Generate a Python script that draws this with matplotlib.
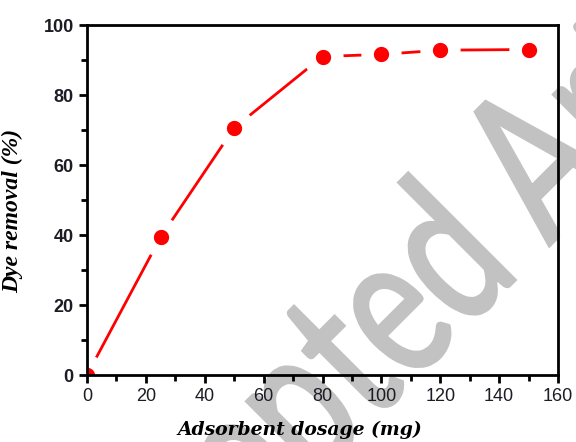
import numpy as np
import matplotlib
matplotlib.use("Agg")
import matplotlib.pyplot as plt
from matplotlib.ticker import MultipleLocator
from matplotlib.textpath import TextPath
from matplotlib.patches import PathPatch
from matplotlib.font_manager import FontProperties
from matplotlib.transforms import Affine2D

dosage = [0, 25, 50, 80, 100, 120, 150]
removal = [0, 39.4, 70.6, 91.0, 91.6, 92.8, 93.0]

fig = plt.figure(figsize=(5.76, 4.42), dpi=100)
ax = fig.add_axes([87 / 576, 1 - 375 / 442, 471 / 576, 350 / 442])
ax.set_facecolor("none")
ax.set_zorder(1)

# thick white marker edge leaves the gap between line and symbol
ax.plot(dosage, removal, color="red", lw=2, marker="o", ms=20,
        markerfacecolor="red", markeredgecolor="white", markeredgewidth=9,
        zorder=2)

ax.set_xlim(0, 160)
ax.set_ylim(0, 100)
ax.xaxis.set_major_locator(MultipleLocator(20))
ax.xaxis.set_minor_locator(MultipleLocator(10))
ax.yaxis.set_major_locator(MultipleLocator(20))
ax.yaxis.set_minor_locator(MultipleLocator(10))
ax.tick_params(which="major", direction="out", length=6, width=2, labelsize=13)
ax.tick_params(which="minor", direction="out", length=4, width=2)
for lab in ax.get_xticklabels() + ax.get_yticklabels():
    lab.set_family("Liberation Sans")
    lab.set_color("#1c1c24")
for lab in ax.get_yticklabels():
    lab.set_weight("bold")
for sp in ax.spines.values():
    sp.set_linewidth(2)

ax.set_xlabel("Adsorbent dosage (mg)", family="DejaVu Serif",
              style="italic", weight="bold", fontsize=13.5)
ax.set_ylabel("Dye removal (%)", family="Liberation Serif",
              style="italic", weight="bold", fontsize=17)
ax.xaxis.set_label_coords((300 - 87) / 471, -46 / 350)
ax.yaxis.set_label_coords((23 - 87) / 471, (375 - 211) / 350)

# watermark behind the axes, a bit condensed like the original
fp = FontProperties(family="Lato")
size = 205
wm_path = TextPath((0, 0), "Accepted Article", size=size, prop=fp)
d_end = TextPath((0, 0), "Accepted", size=size, prop=fp).get_extents().x1
wm_tr = (Affine2D().translate(-d_end, 0).scale(0.72, 1)
         .rotate_deg(45).translate(515, 442 - 280))
fig.add_artist(PathPatch(wm_path, transform=wm_tr, fc="#c2c2c2",
                         ec="#c2c2c2", lw=2.5, zorder=-1))

fig.savefig("out.png", dpi=100)
